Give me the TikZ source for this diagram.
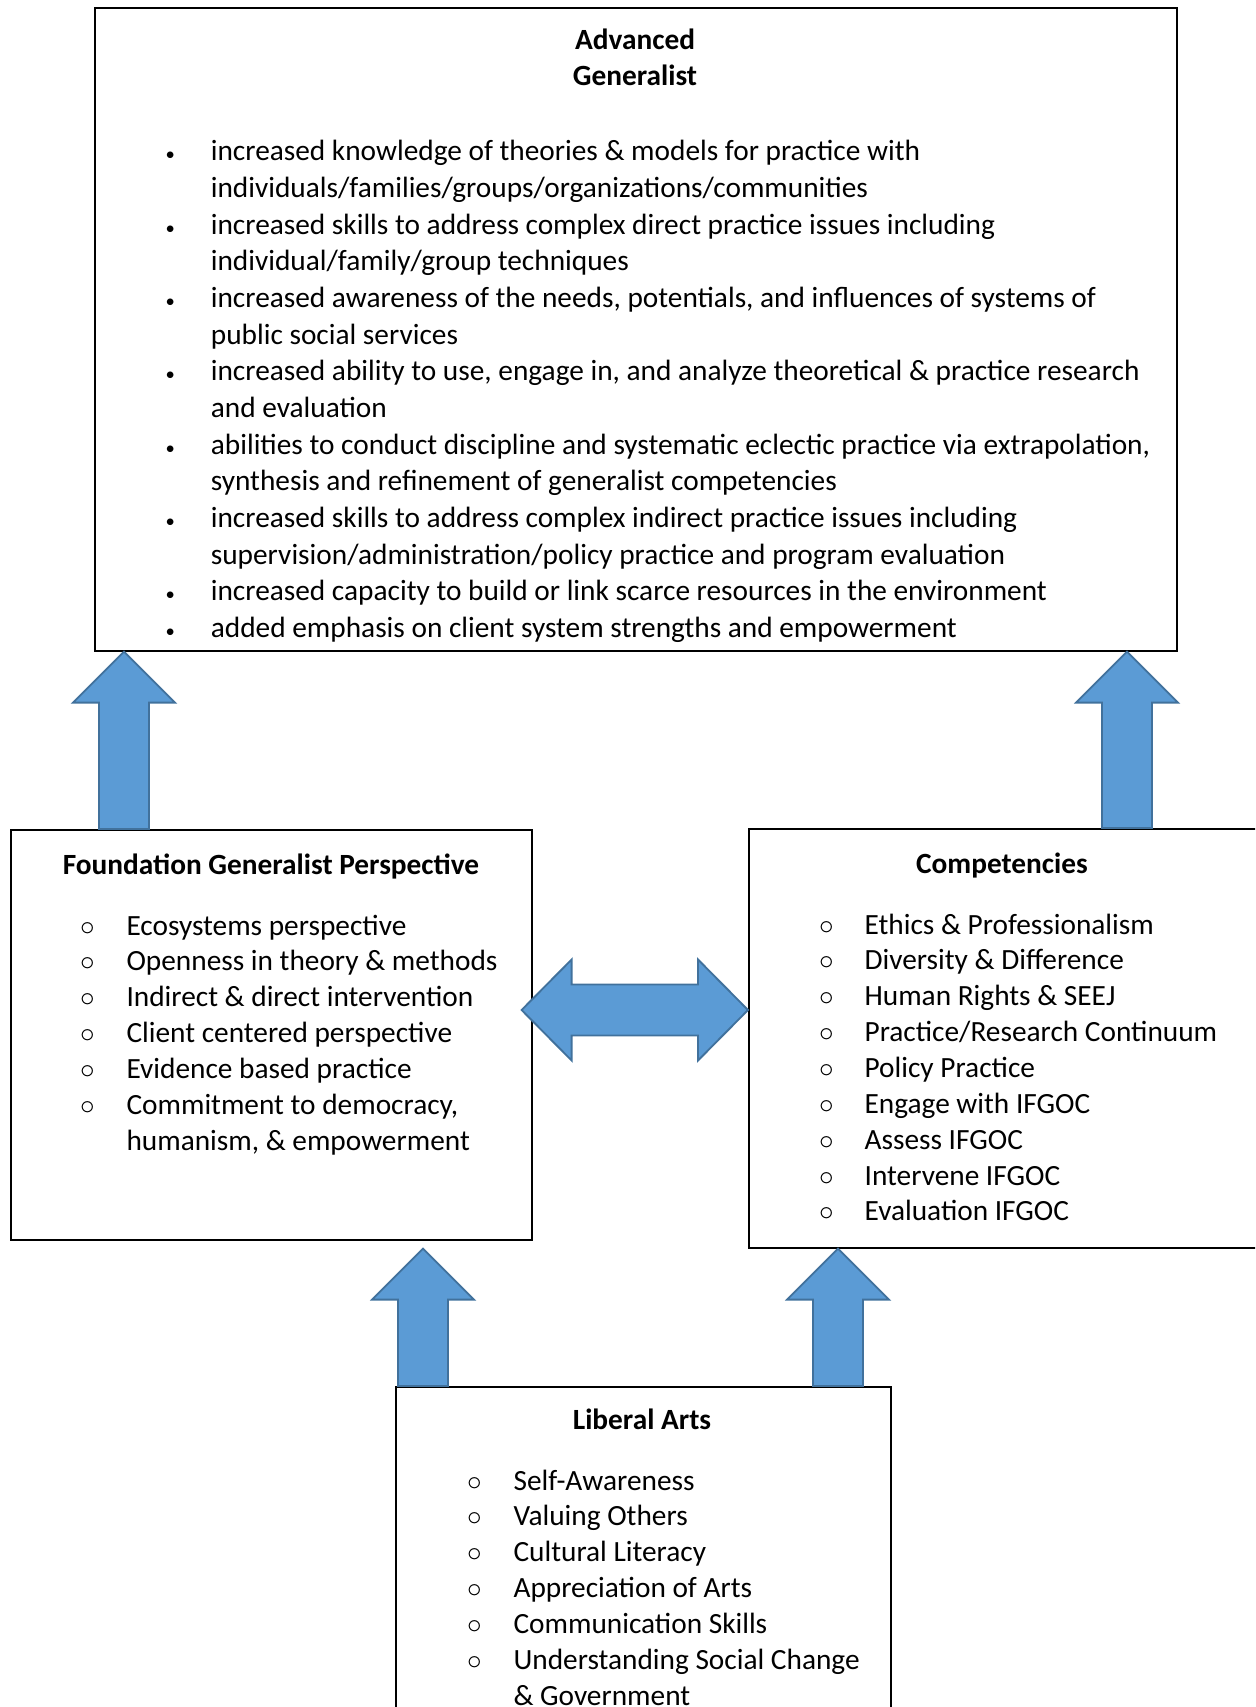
\documentclass[tikz,border=0pt]{standalone}
\usepackage{fontspec}
\setmainfont{Carlito}
\usetikzlibrary{calc}
\usetikzlibrary{positioning}

\definecolor{arrowblue}{HTML}{5B9BD5}
\definecolor{arrowedge}{HTML}{41719C}

\newcommand{\pxu}{0.375pt}
\newcommand{\bl}{{\fontsize{7}{7}\selectfont\textbullet}}
\newcommand{\ci}{$\circ$}

% block arrow going up from #1 (tail) to #2 (tip)
\newcommand{\blockup}[2]{%
  \draw[blockarrow] ($(#1)+(-25,0)$) -- ($(#2)+(-25,51)$) -- ($(#2)+(-51,51)$) -- (#2)
    -- ($(#2)+(51,51)$) -- ($(#2)+(25,51)$) -- ($(#1)+(25,0)$) -- cycle;}

\tikzset{
  box/.style={draw=black, line width=0.6pt, anchor=north west, inner sep=0pt},
  blockarrow/.style={fill=arrowblue, draw=arrowedge, line width=0.7pt, line join=miter},
  title/.style={font=\fontsize{11}{13.75}\selectfont\bfseries, anchor=base, inner sep=0pt},
  list/.style={anchor=base west, inner sep=0pt},
  sublist/.style={list, font=\fontsize{11}{13.45}\selectfont},
}

\begin{document}
\begin{tikzpicture}[x=0.375pt, y=-0.375pt, font=\fontsize{11}{13.75}\selectfont]
    \useasboundingbox (0,0) rectangle (1255,1707);
    \clip (0,0) rectangle (1255,1707);
    % boxes
    \node[box, minimum width=1082*\pxu, minimum height=643*\pxu] (adv) at (94,7) {};
    \node[box, minimum width=521*\pxu, minimum height=410*\pxu] (fgp) at (10,829) {};
    \node[box, minimum width=520*\pxu, minimum height=419*\pxu] (comp) at (748,828) {};
    \node[box, minimum width=495*\pxu, minimum height=340*\pxu] (lib) at (395,1386) {};

    % titles
    \node[title] (advtitle) at (635,50) {Advanced};
    \node[title] (advtitle2) at (635,86) {Generalist};
    \node[title] (fgptitle) at (271,874) {Foundation Generalist Perspective};
    \node[title] (comptitle) at (1002,873) {Competencies};
    \node[title] (libtitle) at (642,1429) {Liberal Arts};

    % lists
    \node[list] (advlist) at (165,161) {\begin{tabular}[t]{@{}p{17pt}@{}l@{}}
      \bl & increased knowledge of theories \& models for practice with\\
          & individuals/families/groups/organizations/communities\\
      \bl & increased skills to address complex direct practice issues including\\
          & individual/family/group techniques\\
      \bl & increased awareness of the needs, potentials, and influences of systems of\\
          & public social services\\
      \bl & increased ability to use, engage in, and analyze theoretical \& practice research\\
          & and evaluation\\
      \bl & abilities to conduct discipline and systematic eclectic practice via extrapolation,\\
          & synthesis and refinement of generalist competencies\\
      \bl & increased skills to address complex indirect practice issues including\\
          & supervision/administration/policy practice and program evaluation\\
      \bl & increased capacity to build or link scarce resources in the environment\\
      \bl & added emphasis on client system strengths and empowerment
    \end{tabular}};
    \node[sublist] (fgplist) at (80,935) {\begin{tabular}[t]{@{}p{17.25pt}@{}l@{}}
      \ci & Ecosystems perspective\\
      \ci & Openness in theory \& methods\\
      \ci & Indirect \& direct intervention\\
      \ci & Client centered perspective\\
      \ci & Evidence based practice\\
      \ci & Commitment to democracy,\\
          & humanism, \& empowerment
    \end{tabular}};
    \node[sublist] (complist) at (819,934) {\begin{tabular}[t]{@{}p{16.9pt}@{}l@{}}
      \ci & Ethics \& Professionalism\\
      \ci & Diversity \& Difference\\
      \ci & Human Rights \& SEEJ\\
      \ci & Practice/Research Continuum\\
      \ci & Policy Practice\\
      \ci & Engage with IFGOC\\
      \ci & Assess IFGOC\\
      \ci & Intervene IFGOC\\
      \ci & Evaluation IFGOC
    \end{tabular}};
    \node[sublist] (liblist) at (467,1490) {\begin{tabular}[t]{@{}p{17.25pt}@{}l@{}}
      \ci & Self-Awareness\\
      \ci & Valuing Others\\
      \ci & Cultural Literacy\\
      \ci & Appreciation of Arts\\
      \ci & Communication Skills\\
      \ci & Understanding Social Change\\
          & \& Government
    \end{tabular}};

    % arrows
    \coordinate (a1) at ($(fgp.north west)+(114,0)$);
    \coordinate (a1tip) at (a1 |- adv.south);
    \coordinate (a2) at ($(comp.north west)+(379,0)$);
    \coordinate (a2tip) at (a2 |- adv.south);
    \coordinate (a3) at ($(lib.north west)+(28,0)$);
    \coordinate (a3tip) at (a3 |- comp.south);
    \coordinate (a4) at ($(lib.north west)+(443,0)$);
    \coordinate (a4tip) at (a4 |- comp.south);
    \blockup{a1}{a1tip}
    \blockup{a2}{a2tip}
    \blockup{a3}{a3tip}
    \blockup{a4}{a4tip}

    \coordinate (dl) at ($(fgp.north east)+(-11,181)$);
    \coordinate (dr) at (dl -| comp.west);
    \draw[blockarrow] (dl) -- ++(50,-50.5) -- ++(0,25) -- ($(dr)+(-50,-25.5)$) -- ++(0,-25) -- (dr)
      -- ++(-50,50.5) -- ++(0,-25) -- ($(dl)+(50,25.5)$) -- ++(0,25) -- cycle;
\end{tikzpicture}
\end{document}
